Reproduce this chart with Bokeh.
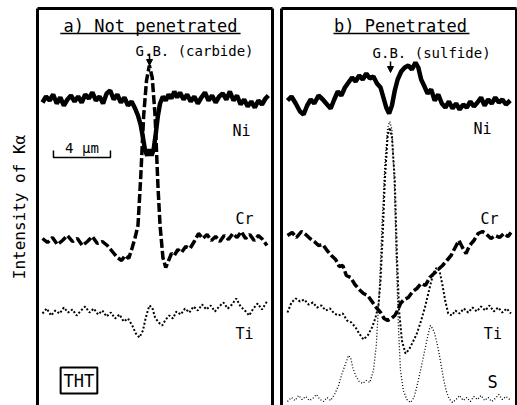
from bokeh.plotting import figure
from bokeh.layouts import row
from bokeh.models import LinearAxis, Label, Range1d, Arrow, NormalHead, FixedTicker
from bokeh.embed import file_html
from bokeh.resources import INLINE

# ---------------- data (distance in µm from panel edge, intensity in a.u.) -------------
# a) Not penetrated
a_ni_x = [0.35, 0.6, 0.85, 1.1, 1.35, 1.6, 1.85, 2.1, 2.35, 2.6, 2.85, 3.1, 3.35, 3.6, 3.85, 4.1,
          4.35, 4.6, 4.85, 5.1, 5.35, 5.6, 5.85, 6.1, 6.35, 6.6, 6.85, 7.05, 7.25, 7.4, 7.55, 7.7,
          7.85, 8.0, 8.15, 8.3, 8.45, 8.6, 8.8, 9.0, 9.2, 9.4, 9.6, 9.8, 10.0, 10.25, 10.5, 10.75,
          11.0, 11.25, 11.5, 11.75, 12.0, 12.25, 12.5, 12.75, 13.0, 13.25, 13.5, 13.75, 14.0,
          14.25, 14.5, 14.75, 15.0, 15.25, 15.5, 15.75, 16.0, 16.2]
a_ni_y = [303, 309, 305, 311, 302, 308, 300, 306, 310, 304, 309, 303, 311, 307, 313, 305,
          309, 302, 312, 315, 306, 311, 303, 308, 300, 304, 297, 290, 280, 268, 255, 250,
          256, 250, 256, 272, 290, 302, 309, 305, 311, 307, 314, 308, 313, 306, 311, 304,
          309, 302, 308, 313, 305, 310, 303, 309, 312, 306, 314, 305, 310,
          301, 306, 299, 304, 298, 305, 301, 307, 310]

a_cr_x = [0.35, 0.7, 1.05, 1.4, 1.75, 2.1, 2.45, 2.8, 3.15, 3.5, 3.85, 4.2, 4.55, 4.9, 5.25,
          5.6, 5.9, 6.15, 6.4, 6.65, 6.85, 7.05, 7.25, 7.45, 7.65, 7.85, 8.05, 8.25, 8.45, 8.6,
          8.8, 9.0, 9.2, 9.4, 9.6, 9.85, 10.1, 10.4, 10.7, 11.0, 11.3, 11.6, 11.9, 12.2, 12.5,
          12.8, 13.1, 13.4, 13.7, 14.0, 14.3, 14.6, 14.9, 15.2, 15.5, 15.8, 16.1]
a_cr_y = [167, 163, 168, 161, 165, 170, 164, 167, 160, 164, 169, 162, 164, 160, 154,
          148, 145, 150, 147, 158, 168, 180, 230, 290, 325, 340, 328, 290, 220, 180,
          148, 138, 145, 152, 150, 156, 153, 159, 157, 164, 172, 167, 171, 165, 169,
          164, 170, 166, 172, 168, 174, 167, 171, 165, 170, 166, 160]

a_ti_x = [0.35, 0.65, 0.95, 1.25, 1.55, 1.85, 2.15, 2.45, 2.75, 3.05, 3.35, 3.65, 3.95, 4.25,
          4.55, 4.85, 5.15, 5.45, 5.75, 6.05, 6.35, 6.65, 6.9, 7.15, 7.4, 7.6, 7.85, 8.05, 8.25,
          8.5, 8.75, 9.0, 9.25, 9.5, 9.75, 10.05, 10.35, 10.65, 10.95, 11.25, 11.55, 11.85,
          12.15, 12.45, 12.75, 13.05, 13.35, 13.65, 13.95, 14.25, 14.55, 14.85, 15.15, 15.45,
          15.75, 16.1]
a_ti_y = [92, 97, 90, 95, 92, 98, 93, 96, 90, 95, 99, 93, 97, 91,
          95, 89, 93, 87, 91, 84, 87, 80, 72, 68, 75, 88, 100, 98, 88,
          83, 80, 86, 90, 87, 94, 91, 97, 93, 99, 95, 101, 96,
          100, 94, 99, 103, 97, 101, 107, 99, 95, 90, 97, 102,
          96, 104]

# b) Penetrated
b_ni_x = [0.42, 0.7, 1.0, 1.3, 1.55, 1.8, 2.05, 2.3, 2.6, 2.9, 3.2, 3.45, 3.7, 3.95, 4.2, 4.45,
          4.7, 4.95, 5.2, 5.45, 5.7, 5.95, 6.2, 6.45, 6.7, 6.95, 7.15, 7.35, 7.55, 7.75, 7.95,
          8.15, 8.4, 8.65, 8.9, 9.15, 9.4, 9.6, 9.8, 10.0, 10.25, 10.5, 10.75, 11.0, 11.25,
          11.5, 11.75, 12.0, 12.25, 12.5, 12.75, 13.0, 13.25, 13.5, 13.75, 14.0, 14.25, 14.5,
          14.75, 15.0, 15.25, 15.5, 15.75, 16.05]
b_ni_y = [305, 309, 302, 294, 291, 300, 306, 302, 310, 306, 301, 297, 306, 314, 310, 318,
          323, 328, 324, 330, 326, 332, 327, 329, 322, 318, 308, 298, 292, 300, 315,
          326, 334, 338, 340, 336, 343, 338, 326, 320, 312, 316, 305, 311, 302,
          298, 304, 297, 302, 296, 301, 298, 304, 299, 303, 308, 300, 306,
          302, 308, 303, 306, 301, 305]

b_cr_x = [0.42, 0.75, 1.05, 1.4, 1.7, 2.0, 2.3, 2.6, 2.9, 3.2, 3.5, 3.8, 4.05, 4.3, 4.55, 4.85,
          5.15, 5.45, 5.75, 6.05, 6.35, 6.65, 6.95, 7.2, 7.45, 7.7, 7.95, 8.15, 8.35, 8.6, 8.9,
          9.2, 9.5, 9.8, 10.1, 10.4, 10.7, 11.0, 11.3, 11.6, 11.9, 12.15, 12.45, 12.7, 12.95,
          13.2, 13.5, 13.8, 14.1, 14.4, 14.7, 15.0, 15.3, 15.6, 15.9, 16.1]
b_cr_y = [170, 173, 168, 174, 171, 167, 164, 160, 161, 155, 150, 146, 139, 140, 130, 128,
          121, 116, 112, 110, 104, 98, 93, 87, 85, 87, 90, 95, 102, 106, 108,
          114, 117, 122, 120, 128, 132, 136, 140, 145, 150, 157, 165, 158, 152,
          160, 165, 172, 174, 171, 167, 170, 168, 172, 169, 173]

b_ti_x = [0.42, 0.7, 1.0, 1.3, 1.6, 1.9, 2.2, 2.5, 2.8, 3.1, 3.4, 3.7, 4.0, 4.3, 4.6, 4.9, 5.2,
          5.45, 5.75, 6.05, 6.35, 6.6, 6.8, 6.95, 7.1, 7.25, 7.45, 7.6, 7.75, 7.95, 8.1, 8.25,
          8.45, 8.7, 8.95, 9.2, 9.5, 9.8, 10.1, 10.4, 10.65, 10.9, 11.1, 11.3, 11.5, 11.7,
          11.95, 12.2, 12.5, 12.8, 13.1, 13.4, 13.7, 14.0, 14.3, 14.6, 14.9, 15.2, 15.5, 15.8,
          16.1]
b_ti_y = [93, 103, 107, 104, 106, 101, 103, 98, 100, 95, 97, 92, 90, 92, 85, 83, 78,
          72, 66, 70, 78, 88, 100, 125, 170, 225, 270, 278, 268, 225, 150, 95,
          65, 52, 56, 63, 72, 85, 100, 118, 132, 138, 134, 120, 104, 92,
          90, 95, 92, 97, 93, 98, 94, 99, 95, 100, 94, 98, 93, 97,
          92]

b_s_x = [0.42, 0.7, 0.95, 1.2, 1.45, 1.7, 1.95, 2.2, 2.45, 2.7, 2.95, 3.2, 3.45, 3.75, 4.0,
         4.25, 4.5, 4.7, 4.85, 5.0, 5.2, 5.45, 5.7, 5.95, 6.2, 6.45, 6.65, 6.85, 7.05, 7.25,
         7.45, 7.6, 7.75, 7.9, 8.05, 8.2, 8.35, 8.55, 8.8, 9.05, 9.3, 9.55, 9.8, 10.05, 10.3,
         10.45, 10.6, 10.75, 10.95, 11.15, 11.35, 11.55, 11.75, 12.0, 12.25, 12.5, 12.75,
         13.0, 13.25, 13.5, 13.75, 14.0, 14.25, 14.5, 14.75, 15.0, 15.25, 15.5, 15.75, 16.1]
b_s_y = [4, 8, 5, 10, 6, 9, 5, 7, 11, 6, 4, 8, 5, 12, 20,
         32, 42, 50, 48, 38, 30, 24, 22, 25, 23, 35, 60, 110, 180, 240,
         278, 284, 276, 230, 150, 80, 35, 15, 6, 3, 8, 22, 38, 55, 72,
         80, 77, 72, 60, 45, 28, 15, 7, 3, 6, 10, 5,
         8, 4, 9, 6, 10, 5, 8, 4, 7, 11, 6, 9, 5]

SCALE_UM = 4
PANEL_UM = 16.49
Y_MAX = 397

FONT = "DejaVu Sans"
MONO = "DejaVu Sans Mono"


def border_axis(loc, p, label=None):
    ax = LinearAxis(ticker=FixedTicker(ticks=[]), axis_line_width=3, axis_line_color="black",
                    major_tick_line_color=None, minor_tick_line_color=None,
                    major_label_standoff=0, major_tick_out=0, major_tick_in=0)
    if label:
        ax.axis_label = label
        ax.axis_label_text_font = MONO
        ax.axis_label_text_font_size = "16px"
        ax.axis_label_text_font_style = "normal"
        ax.axis_label_text_color = "black"
        ax.axis_label_standoff = 9
    p.add_layout(ax, loc)


def make_panel(width, left, right, ylabel=None):
    p = figure(width=width, height=405, x_range=Range1d(0, PANEL_UM),
               y_range=Range1d(0, Y_MAX), output_backend="svg", toolbar_location=None,
               min_border_left=left, min_border_right=right, min_border_top=8,
               min_border_bottom=0, x_axis_location=None, y_axis_location=None)
    p.grid.visible = False
    p.outline_line_color = None
    p.background_fill_color = "white"
    border_axis("left", p, ylabel)
    border_axis("right", p)
    border_axis("above", p)
    return p


def txt(p, x, y, s, size="15px", align="left", font=MONO, baseline="middle"):
    p.add_layout(Label(x=x, y=y, text=s, text_font=font, text_font_size=size,
                       text_align=align, text_baseline=baseline, text_color="black"))


# ---------------- panel a ----------------
pa = make_panel(276, 37, 4, "Intensity of Kα")
pa.line(a_ti_x, a_ti_y, line_color="black", line_width=2, line_dash="2 2")
pa.line(a_cr_x, a_cr_y, line_color="black", line_width=3.5, line_dash="9 3")
pa.line(a_ni_x, a_ni_y, line_color="black", line_width=4.5)

txt(pa, 7.93, 380, "a) Not penetrated", size="17px", align="center")
pa.segment(x0=[1.6], y0=[372], x1=[14.25], y1=[372], line_color="black", line_width=1.5)
txt(pa, 6.88, 355, "G.B. (carbide)", size="14px")
pa.add_layout(Arrow(end=NormalHead(size=6, fill_color="black", line_color="black"),
                    x_start=7.86, y_start=352, x_end=7.86, y_end=340, line_width=1.5))
txt(pa, 13.68, 275, "Ni")
txt(pa, 13.9, 187, "Cr")
txt(pa, 13.9, 72, "Ti")
# scale bar
sb0 = 1.12
pa.line([sb0, sb0, sb0 + SCALE_UM, sb0 + SCALE_UM], [255, 248, 248, 255],
        line_color="black", line_width=1.5)
txt(pa, sb0 + SCALE_UM / 2, 250, "4 µm", size="14px", align="center", baseline="bottom")
pa.add_layout(Label(x=2.91, y=25, text="THT", text_font=MONO, text_font_size="17px",
                    text_align="center", text_baseline="middle", text_color="black",
                    border_line_color="black", border_line_width=2,
                    background_fill_color="white", padding=3))

# ---------------- panel b ----------------
pb = make_panel(241, 5, 1)
pb.line(b_s_x, b_s_y, line_color="black", line_width=1.3, line_dash="1 2")
pb.line(b_ti_x, b_ti_y, line_color="black", line_width=2, line_dash="2 2")
pb.line(b_cr_x, b_cr_y, line_color="black", line_width=3.5, line_dash="9 3")
pb.line(b_ni_x, b_ni_y, line_color="black", line_width=4.5)

txt(pb, 8.35, 380, "b) Penetrated", size="17px", align="center")
pb.segment(x0=[3.65], y0=[372], x1=[13.19], y1=[372], line_color="black", line_width=1.5)
txt(pb, 6.39, 353, "G.B. (sulfide)", size="14px")
pb.add_layout(Arrow(end=NormalHead(size=6, fill_color="black", line_color="black"),
                    x_start=7.65, y_start=344, x_end=7.65, y_end=333, line_width=1.5))
txt(pb, 13.47, 277, "Ni")
txt(pb, 13.96, 187, "Cr")
txt(pb, 14.2, 72, "Ti")
txt(pb, 14.46, 24, "S", size="17px")

layout = row(pa, pb, spacing=0)
open("out.html", "w").write(file_html(layout, INLINE))
